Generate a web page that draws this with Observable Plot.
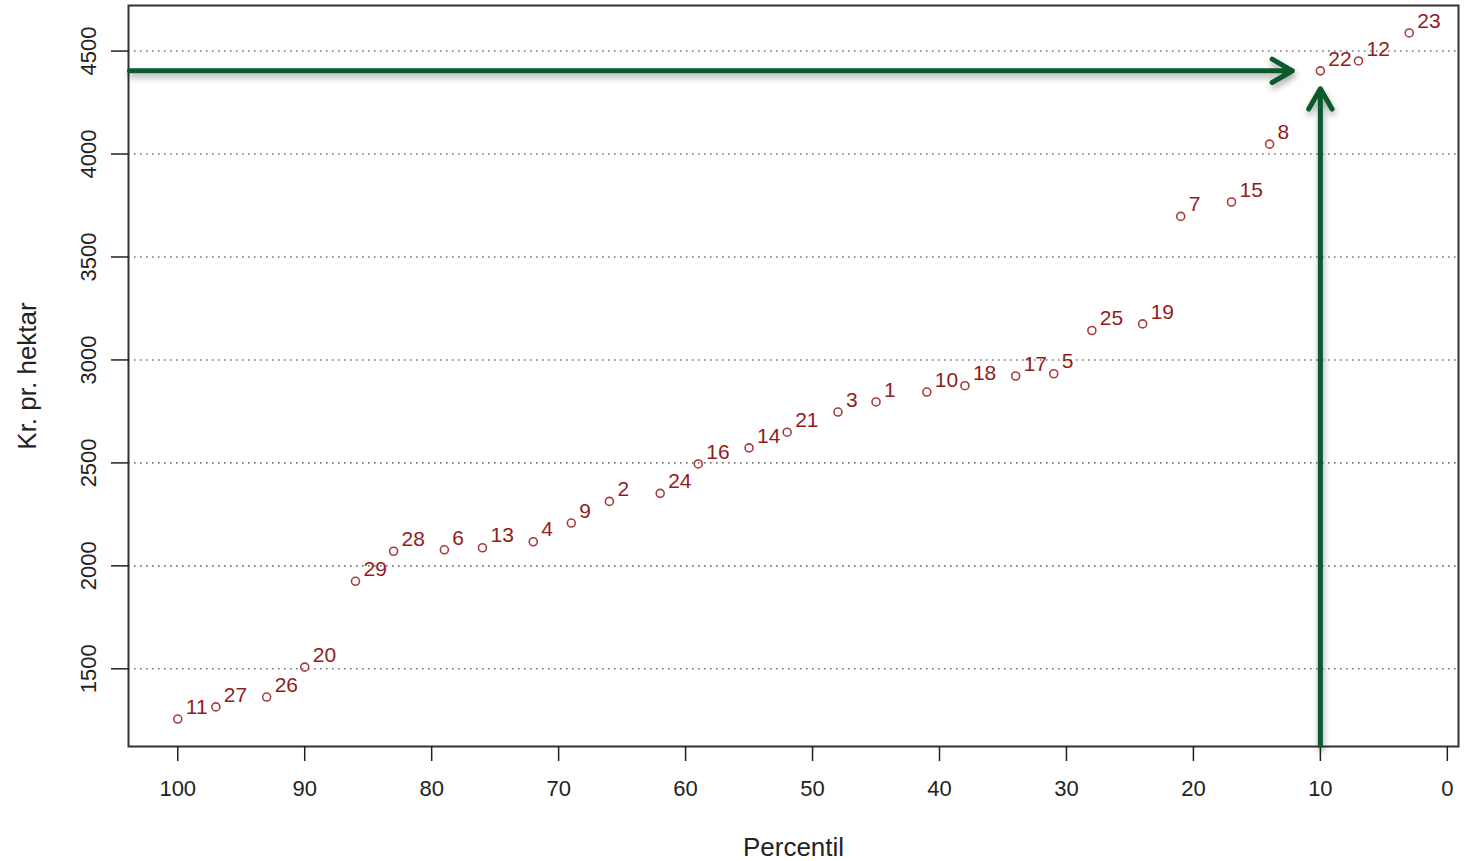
<!DOCTYPE html>
<html><head><meta charset="utf-8">
<script src="https://cdn.jsdelivr.net/npm/d3@7"></script>
<script src="https://cdn.jsdelivr.net/npm/@observablehq/plot@0.6"></script>
<style>
body{margin:0;background:#fff;overflow:hidden}
#chart svg{display:block}
</style>
</head><body><div id="chart"></div>
<script>
// Data
const ids = [11,27,26,20,29,28,6,13,4,9,2,24,16,14,21,3,1,10,18,17,5,25,19,7,15,8,22,12,23];
const percentiles = [100,97,93,90,86,83,79,76,72,69,66,62,59,55,52,48,45,41,38,34,31,28,24,21,17,14,10,7,3];
const values = [1256,1315,1363,1508,1925,2071,2078,2088,2117,2208,2313,2352,2495,2573,2649,2747,2796,2844,2875,2922,2933,3143,3175,3697,3767,4048,4404,4452,4588];
const xTicks = [100,90,80,70,60,50,40,30,20,10,0];
const yTicks = [1500,2000,2500,3000,3500,4000,4500];
const xTitle = "Percentil";
const yTitle = "Kr. pr. hektar";
const highlightId = 22;

const data = ids.map((id, i) => ({id, p: percentiles[i], v: values[i]}));

// R-style 4% domain expansion
const pMin = d3.min(percentiles), pMax = d3.max(percentiles);
const vMin = d3.min(values), vMax = d3.max(values);
const pPad = 0.04 * (pMax - pMin), vPad = 0.04 * (vMax - vMin);
const xDomain = [pMax + pPad, pMin - pPad];
const yDomain = [vMin - vPad, vMax + vPad];

const hl = data.find(d => d.id === highlightId);
const green = "#0b5a2e";
const font = "Arial, 'Liberation Sans', sans-serif";

const chart = Plot.plot({
  width: 1468,
  height: 861,
  marginLeft: 128,
  marginRight: 10,
  marginTop: 5,
  marginBottom: 115,
  style: {fontFamily: font, background: "#fff", color: "#222"},
  x: {domain: xDomain, label: null},
  y: {domain: yDomain, label: null},
  marks: [
    Plot.gridY(yTicks, {stroke: "#777", strokeOpacity: 1, strokeWidth: 1.6, strokeDasharray: "1.6,4.4"}),
    Plot.frame({stroke: "#333", strokeWidth: 2}),
    Plot.axisX({ticks: xTicks, tickSize: 15, tickPadding: 19, fontSize: 22, label: null, stroke: "#222", strokeWidth: 1.5, fill: "#222"}),
    Plot.axisY({ticks: yTicks, tickSize: 17, tickFormat: () => "", label: null, stroke: "#222", strokeWidth: 1.5}),
    Plot.text(yTicks, {y: d => d, text: d => String(d), frameAnchor: "left", dx: -40, rotate: -90, textAnchor: "middle", lineAnchor: "middle", fontSize: 22, fill: "#222"}),
    Plot.text([xTitle], {text: d => d, frameAnchor: "bottom", dy: 101, textAnchor: "middle", lineAnchor: "middle", fontSize: 26, fill: "#222"}),
    Plot.text([yTitle], {text: d => d, frameAnchor: "left", dx: -101, rotate: -90, textAnchor: "middle", lineAnchor: "middle", fontSize: 26, fill: "#222"}),
    Plot.dot(data, {x: "p", y: "v", r: 4, stroke: "#a83c3c", strokeWidth: 1.6, fill: "none"}),
    Plot.text(data, {x: "p", y: "v", text: d => String(d.id), dx: 8, dy: -12, textAnchor: "start", fontSize: 21, fill: "#921c1c"}),
    Plot.arrow([hl], {x1: () => xDomain[0], y1: "v", x2: "p", y2: "v", stroke: green, strokeWidth: 5, headLength: 7, headAngle: 60, insetEnd: 28, insetStart: 1}),
    Plot.arrow([hl], {x1: "p", y1: () => yDomain[0], x2: "p", y2: "v", stroke: green, strokeWidth: 5, headLength: 7, headAngle: 60, insetEnd: 18, insetStart: 1})
  ]
});

d3.select(chart).selectAll('g[aria-label="arrow"]').style("filter", "drop-shadow(1px 4px 3px rgba(0,0,0,0.35))");
document.getElementById("chart").appendChild(chart);
</script>
</body></html>
